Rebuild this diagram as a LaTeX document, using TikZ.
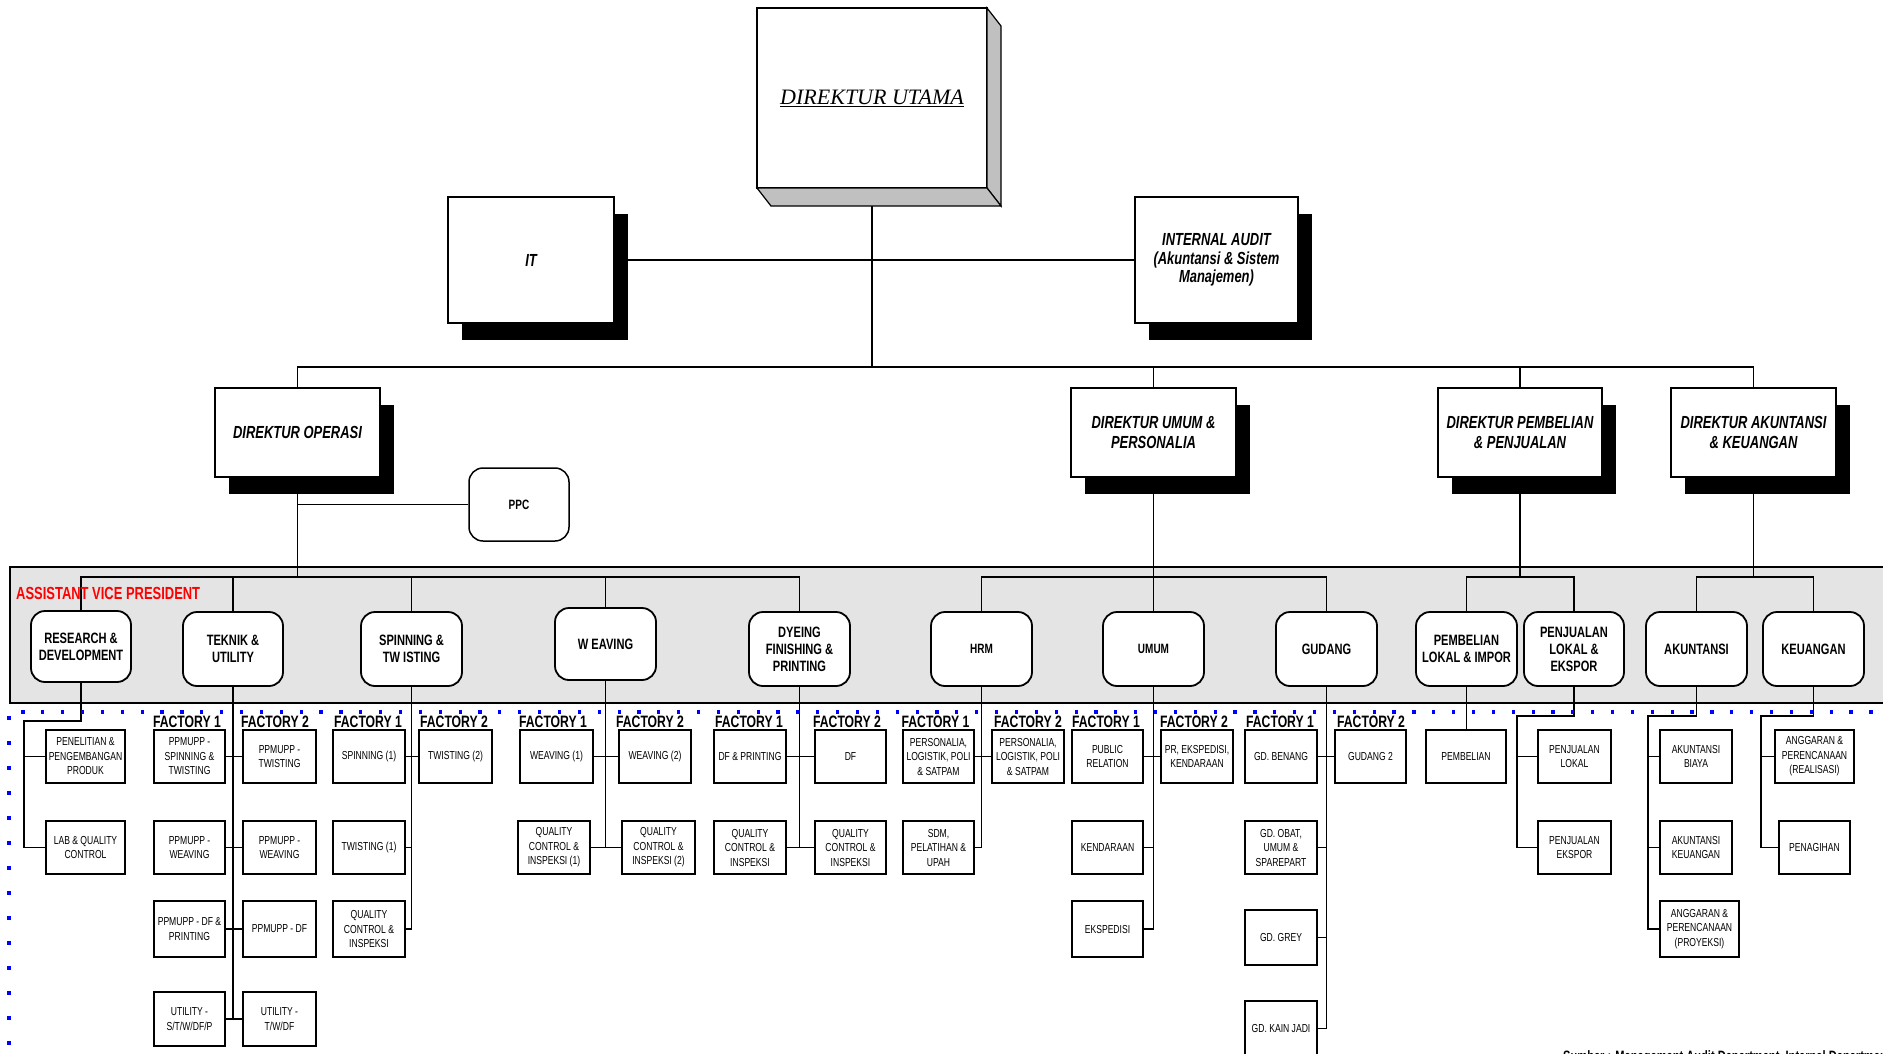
\documentclass[tikz,border=0pt]{standalone}
\usepackage{fontspec}
\setmainfont{Liberation Sans}[FakeStretch=0.74]
\newfontfamily\headserif{Liberation Serif}
\usetikzlibrary{shadows}

\pgfdeclarelayer{bg}
\pgfdeclarelayer{mid}
\pgfsetlayers{bg,mid,main}

\definecolor{avpgray}{RGB}{228,228,228}
\definecolor{facegray}{RGB}{192,192,192}
\definecolor{dotblue}{RGB}{0,0,255}
\definecolor{avpred}{RGB}{255,0,0}

\tikzset{
  topconn/.style={line width=1.2pt},
  conn/.style={line width=1.7pt},
  dirbox/.style={draw, line width=1.2pt, fill=white, inner sep=1pt, align=center,
    font=\bfseries\itshape\fontsize{17.5}{20}\selectfont,
    drop shadow={shadow xshift=14pt, shadow yshift=-17pt, fill=black, opacity=1}},
  avpbox/.style={draw, line width=1.8pt, fill=white, rounded corners=14pt, align=center,
    inner sep=1pt, font=\bfseries\fontsize{15}{17}\selectfont,
    minimum width=101pt, minimum height=74pt},
  subbox/.style={draw, line width=1.8pt, fill=white, align=center, inner sep=1pt,
    font=\fontsize{11.6}{14.5}\selectfont, minimum height=53pt, minimum width=72pt},
  flabel/.style={font=\bfseries\fontsize{16.5}{18}\selectfont, inner sep=0pt},
}

\begin{document}
\begin{tikzpicture}[x=1pt,y=-1pt]
\useasboundingbox (0,0) rectangle (1883,1053);
\clip (0,0) rectangle (1883,1053);

% ---------- top management ----------
\node[draw, line width=1.2pt, fill=white, minimum width=230pt, minimum height=180pt, outer sep=0pt]
  (du) at (872,98) {\headserif\itshape\fontsize{22}{26}\selectfont\underline{DIREKTUR UTAMA}};
\filldraw[fill=facegray, line width=1.2pt] (du.north east) -- ++(14,18)
  -- ([shift={(14,18)}]du.south east) -- (du.south east) -- cycle;
\filldraw[fill=facegray, line width=1.2pt] (du.south west) -- ++(14,18)
  -- ([shift={(14,18)}]du.south east) -- (du.south east) -- cycle;

\node[dirbox, minimum width=166pt, minimum height=126pt] (it) at (531,260) {IT};
\node[dirbox, minimum width=163pt, minimum height=126pt, font=\bfseries\itshape\fontsize{17.5}{18.5}\selectfont]
  (ia) at (1216.5,260) {INTERNAL AUDIT\\(Akuntansi \& Sistem\\Manajemen)};

\node[dirbox, minimum width=165pt, minimum height=89pt] (dop) at (297.5,432.5) {DIREKTUR OPERASI};
\node[dirbox, minimum width=165pt, minimum height=89pt] (dum) at (1153.5,432.5) {DIREKTUR UMUM \&\\PERSONALIA};
\node[dirbox, minimum width=164pt, minimum height=89pt] (dpp) at (1520,432.5) {DIREKTUR PEMBELIAN\\\& PENJUALAN};
\node[dirbox, minimum width=165pt, minimum height=89pt] (dak) at (1753.5,432.5) {DIREKTUR AKUNTANSI\\\& KEUANGAN};

\node[draw, line width=1.5pt, fill=white, rounded corners=14pt, minimum width=100pt, minimum height=73pt,
  font=\bfseries\fontsize{13.5}{16}\selectfont] (ppc) at (519,504.5) {PPC};

\coordinate (bus) at (0,367);
\coordinate (avpbus) at (0,577);

% ---------- assistant vice president band ----------
\begin{pgfonlayer}{bg}
  \filldraw[fill=avpgray, line width=1.5pt] (10,567) rectangle (1900,703);
\end{pgfonlayer}
\node[anchor=west, text=avpred, font=\bfseries\fontsize{17.5}{20}\selectfont, inner sep=0pt]
  (avplabel) at (16,593) {ASSISTANT VICE PRESIDENT};

\node[avpbox, minimum width=100pt, minimum height=71pt] (rd) at (81,646.5) {RESEARCH \&\\DEVELOPMENT};
\node[avpbox, minimum width=100pt] (tu) at (233,649) {TEKNIK \&\\UTILITY};
\node[avpbox] (sp) at (411.5,649) {SPINNING \&\\TW ISTING};
\node[avpbox, minimum height=72pt] (wv) at (605.5,644) {W EAVING};
\node[avpbox] (dy) at (799.5,649) {DYEING\\FINISHING \&\\PRINTING};
\node[avpbox, font=\bfseries\fontsize{13.5}{16}\selectfont] (hrm) at (981.5,649) {HRM};
\node[avpbox, font=\bfseries\fontsize{13.5}{16}\selectfont] (um) at (1153.5,649) {UMUM};
\node[avpbox] (gd) at (1326.5,649) {GUDANG};
\node[avpbox] (pl) at (1466.5,649) {PEMBELIAN\\LOKAL \& IMPOR};
\node[avpbox, minimum width=100pt] (pj) at (1574,649) {PENJUALAN\\LOKAL \&\\EKSPOR};
\node[avpbox] (ak) at (1696.5,649) {AKUNTANSI};
\node[avpbox] (ke) at (1813.5,649) {KEUANGAN};

% ---------- factory labels ----------
\node[flabel] (ft1) at (187,722) {FACTORY 1};
\node[flabel] (ft2) at (275,722) {FACTORY 2};
\node[flabel] (fs1) at (368,722) {FACTORY 1};
\node[flabel] (fs2) at (454,722) {FACTORY 2};
\node[flabel] (fw1) at (553,722) {FACTORY 1};
\node[flabel] (fw2) at (650,722) {FACTORY 2};
\node[flabel] (fd1) at (749,722) {FACTORY 1};
\node[flabel] (fd2) at (847,722) {FACTORY 2};
\node[flabel] (fh1) at (935.5,722) {FACTORY 1};
\node[flabel] (fh2) at (1028,722) {FACTORY 2};
\node[flabel] (fu1) at (1106,722) {FACTORY 1};
\node[flabel] (fu2) at (1194,722) {FACTORY 2};
\node[flabel] (fg1) at (1280,722) {FACTORY 1};
\node[flabel] (fg2) at (1371,722) {FACTORY 2};

% ---------- units ----------
\node[subbox, minimum width=79pt] (rd1) at (85.5,756.5) {PENELITIAN \&\\PENGEMBANGAN\\PRODUK};
\node[subbox, minimum width=79pt] (rd2) at (85.5,847.5) {LAB \& QUALITY\\CONTROL};

\node[subbox, minimum width=71pt] (t11) at (189.5,756.5) {PPMUPP -\\SPINNING \&\\TWISTING};
\node[subbox, minimum width=71pt] (t12) at (189.5,847.5) {PPMUPP -\\WEAVING};
\node[subbox, minimum width=71pt, minimum height=56pt] (t13) at (189.5,929) {PPMUPP - DF \&\\PRINTING};
\node[subbox, minimum width=71pt, minimum height=54pt] (t14) at (189.5,1019) {UTILITY -\\S/T/W/DF/P};
\node[subbox, minimum width=73pt] (t21) at (279.5,756.5) {PPMUPP -\\TWISTING};
\node[subbox, minimum width=73pt] (t22) at (279.5,847.5) {PPMUPP -\\WEAVING};
\node[subbox, minimum width=73pt, minimum height=56pt] (t23) at (279.5,929) {PPMUPP - DF};
\node[subbox, minimum width=73pt, minimum height=54pt] (t24) at (279.5,1019) {UTILITY -\\T/W/DF};

\node[subbox] (s11) at (369,756.5) {SPINNING (1)};
\node[subbox] (s12) at (369,847.5) {TWISTING (1)};
\node[subbox, minimum height=56pt] (s13) at (369,929) {QUALITY\\CONTROL \&\\INSPEKSI};
\node[subbox, minimum width=73pt] (s21) at (455.5,756.5) {TWISTING (2)};

\node[subbox, minimum width=73pt] (w11) at (556.5,756.5) {WEAVING (1)};
\node[subbox] (w12) at (554,847.5) {QUALITY\\CONTROL \&\\INSPEKSI (1)};
\node[subbox] (w21) at (655,756.5) {WEAVING (2)};
\node[subbox, minimum width=73pt] (w22) at (658.5,847.5) {QUALITY\\CONTROL \&\\INSPEKSI (2)};

\node[subbox] (d11) at (750,756.5) {DF \& PRINTING};
\node[subbox] (d12) at (750,847.5) {QUALITY\\CONTROL \&\\INSPEKSI};
\node[subbox, minimum width=71pt] (d21) at (850.5,756.5) {DF};
\node[subbox, minimum width=71pt] (d22) at (850.5,847.5) {QUALITY\\CONTROL \&\\INSPEKSI};

\node[subbox, minimum width=71pt] (h11) at (938.5,756.5) {PERSONALIA,\\LOGISTIK, POLI\\\& SATPAM};
\node[subbox, minimum width=71pt] (h12) at (938.5,847.5) {SDM,\\PELATIHAN \&\\UPAH};
\node[subbox] (h21) at (1028,756.5) {PERSONALIA,\\LOGISTIK, POLI\\\& SATPAM};

\node[subbox, minimum width=71pt] (u11) at (1107.5,756.5) {PUBLIC\\RELATION};
\node[subbox, minimum width=71pt] (u12) at (1107.5,847.5) {KENDARAAN};
\node[subbox, minimum width=71pt, minimum height=56pt] (u13) at (1107.5,929) {EKSPEDISI};
\node[subbox] (u21) at (1197,756.5) {PR, EKSPEDISI,\\KENDARAAN};

\node[subbox] (g11) at (1281,756.5) {GD. BENANG};
\node[subbox] (g12) at (1281,847.5) {GD. OBAT,\\UMUM \&\\SPAREPART};
\node[subbox, minimum height=55pt] (g13) at (1281,937.5) {GD. GREY};
\node[subbox, minimum height=55pt] (g14) at (1281,1028.5) {GD. KAIN JADI};
\node[subbox, minimum width=71pt] (g21) at (1370.5,756.5) {GUDANG 2};

\node[subbox, minimum width=80pt] (pe1) at (1466,756.5) {PEMBELIAN};

\node[subbox, minimum width=73pt] (pj1) at (1574.5,756.5) {PENJUALAN\\LOKAL};
\node[subbox, minimum width=73pt] (pj2) at (1574.5,847.5) {PENJUALAN\\EKSPOR};

\node[subbox] (ak1) at (1696,756.5) {AKUNTANSI\\BIAYA};
\node[subbox] (ak2) at (1696,847.5) {AKUNTANSI\\KEUANGAN};
\node[subbox, minimum width=79pt, minimum height=56pt] (ak3) at (1699.5,929) {ANGGARAN \&\\PERENCANAAN\\(PROYEKSI)};

\node[subbox, minimum width=79pt] (ke1) at (1814.5,756.5) {ANGGARAN \&\\PERENCANAAN\\(REALISASI)};
\node[subbox, minimum width=71pt] (ke2) at (1814.5,847.5) {PENAGIHAN};

% source line at the foot of the page (only its top edge falls inside the page)
\node[anchor=base west, inner sep=0pt, font=\bfseries\fontsize{15}{17}\selectfont]
  (src) at (1563,1061.5) {Sumber : Management Audit Department, Internal Department};

% ---------- connectors ----------
\coordinate (rdsp) at (24,721);
\coordinate (pjsp) at (1517,716);
\coordinate (aksp) at (1648,716);
\coordinate (kesp) at (1761,716);

\begin{pgfonlayer}{mid}
  % top level
  \draw[topconn] (du.south) -- (du.south |- bus);
  \draw[topconn] (it.east) -- (ia.west |- it.east);
  \draw[topconn] (dop.north) -- (dop.north |- bus) -- (dak.north |- bus) -- (dak.north);
  \draw[topconn] (dum.north) -- (dum.north |- bus);
  \draw[topconn] (dpp.north) -- (dpp.north |- bus);

  % directors to assistant vice presidents
  \draw[conn] (dop.south) -- (dop.south |- avpbus);
  \draw[conn] (ppc.west) -- (ppc.west -| dop.south);
  \draw[conn] (rd.north) -- (rd.north |- avpbus) -- (dy.north |- avpbus) -- (dy.north);
  \draw[conn] (tu.north) -- (tu.north |- avpbus);
  \draw[conn] (sp.north) -- (sp.north |- avpbus);
  \draw[conn] (wv.north) -- (wv.north |- avpbus);

  \draw[conn] (dum.south) -- (um.north);
  \draw[conn] (hrm.north) -- (hrm.north |- avpbus) -- (gd.north |- avpbus) -- (gd.north);

  \draw[conn] (dpp.south) -- (dpp.south |- avpbus);
  \draw[conn] (pl.north) -- (pl.north |- avpbus) -- (pj.north |- avpbus) -- (pj.north);

  \draw[conn] (dak.south) -- (dak.south |- avpbus);
  \draw[conn] (ak.north) -- (ak.north |- avpbus) -- (ke.north |- avpbus) -- (ke.north);

  % research & development
  \draw[conn] (rd.south) |- (rdsp) |- (rd2.west);
  \draw[conn] (rd1.west) -- (rd1.west -| rdsp);

  % teknik & utility
  \draw[conn] (tu.south) -- (tu.south |- t14.east);
  \foreach \k in {1,2,3,4} \draw[conn] (t1\k.east) -- (t2\k.west);

  % spinning & twisting
  \draw[conn] (sp.south) -- (sp.south |- s13.east);
  \draw[conn] (s11.east) -- (s21.west);
  \draw[conn] (s12.east) -- (s12.east -| sp.south);
  \draw[conn] (s13.east) -- (s13.east -| sp.south);

  % weaving
  \draw[conn] (wv.south) -- (wv.south |- w12.east);
  \draw[conn] (w11.east) -- (w21.west);
  \draw[conn] (w12.east) -- (w22.west);

  % dyeing finishing & printing
  \draw[conn] (dy.south) -- (dy.south |- d12.east);
  \draw[conn] (d11.east) -- (d21.west);
  \draw[conn] (d12.east) -- (d22.west);

  % hrm
  \draw[conn] (hrm.south) -- (hrm.south |- h12.east);
  \draw[conn] (h11.east) -- (h21.west);
  \draw[conn] (h12.east) -- (h12.east -| hrm.south);

  % umum
  \draw[conn] (um.south) -- (um.south |- u13.east);
  \draw[conn] (u11.east) -- (u21.west);
  \draw[conn] (u12.east) -- (u12.east -| um.south);
  \draw[conn] (u13.east) -- (u13.east -| um.south);

  % gudang
  \draw[conn] (gd.south) -- (gd.south |- g14.east);
  \draw[conn] (g11.east) -- (g21.west);
  \foreach \k in {2,3,4} \draw[conn] (g1\k.east) -- (g1\k.east -| gd.south);

  % pembelian
  \draw[conn] (pl.south) -- (pl.south |- pe1.north);

  % penjualan
  \draw[conn] (pj.south) |- (pjsp) |- (pj2.west);
  \draw[conn] (pj1.west) -- (pj1.west -| pjsp);

  % akuntansi
  \draw[conn] (ak.south) |- (aksp) |- (ak3.west);
  \draw[conn] (ak1.west) -- (ak1.west -| aksp);
  \draw[conn] (ak2.west) -- (ak2.west -| aksp);

  % keuangan
  \draw[conn] (ke.south) |- (kesp) |- (ke2.west);
  \draw[conn] (ke1.west) -- (ke1.west -| kesp);

  % dotted boundary of the factory area
  \foreach \i in {0,...,93}
    \fill[dotblue] ({23+19.87*\i-1.6},710.4) rectangle ++(3.2,3.2);
  \foreach \j in {0,...,13}
    \fill[dotblue] (7.4,{718+25*\j-1.6}) rectangle ++(3.2,3.2);
\end{pgfonlayer}
\end{tikzpicture}
\end{document}
